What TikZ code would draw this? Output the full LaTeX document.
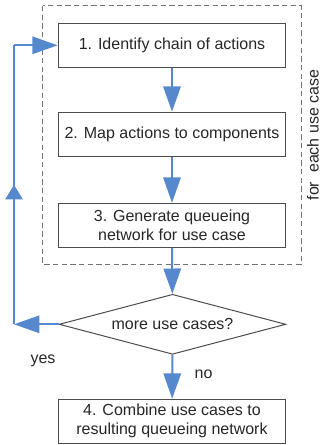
\documentclass[tikz,border=0pt]{standalone}
\usepackage{fontspec}
\setmainfont{Liberation Sans}
\usepackage{tikz}
\usetikzlibrary{arrows.meta,shapes.geometric,positioning,calc,decorations.markings}

\definecolor{flowblue}{RGB}{85,136,204}

\begin{document}
\begin{tikzpicture}[
    x=0.75pt, y=-0.75pt,
    stepbox/.style={draw=black!70, line width=0.75pt, minimum width=170.8pt, minimum height=33pt, align=center, inner sep=2pt, font=\fontsize{12}{14.3}\selectfont, text=black!85},
    decide/.style={diamond, draw=black!70, line width=0.75pt, minimum width=170pt, minimum height=45pt, aspect=3.8, inner sep=0pt, font=\fontsize{12}{14.3}\selectfont, text=black!85},
    lbl/.style={font=\fontsize{12}{14.3}\selectfont, text=black!85},
    arr/.style={-{Triangle[length=19pt, width=13pt]}, line width=1.5pt, flowblue},
    midarr/.style={line width=1.5pt, flowblue, postaction={decorate},
        decoration={markings, mark=at position 0.5 with {\arrow{Triangle[length=11pt, width=13pt]}}}}
]
\useasboundingbox (0,0) rectangle (321,445);

% loop frame
\draw[black!55, line width=0.75pt, dash pattern=on 4pt off 2.5pt] (42.7,6) rectangle (301,264.3);
\node[lbl, rotate=90, inner sep=0pt] (each) at (313,135) {for\ \ each use case};

\node[stepbox] (ident) at (172,45.3) {1. Identify chain of actions};
\node[stepbox] (map) at (172,134.2) {2. Map actions to components};
\node[stepbox] (gen) at (172,225.3) {3. Generate queueing\\network for use case};
\node[decide] (more) at (172.5,324.3) {more use cases?};
\node[stepbox] (comb) at (172,421.2) {4. Combine use cases to\\resulting queueing network};

\coordinate (low) at (14,324.3);
\coordinate (up) at (14,45.3);

\draw[arr] (ident) -- (map);
\draw[arr] (map) -- (gen);
\draw[arr] (gen) -- (more);
\draw[arr] (more) -- (comb);
\draw[arr] (more.west) -- (low);
\draw[midarr] (low) -- (up);
\draw[arr] (up) -- (ident.west);

\node[lbl] (yes) at (43,361) {yes};
\node[lbl] (no) at (203.5,374) {no};
\end{tikzpicture}
\end{document}
